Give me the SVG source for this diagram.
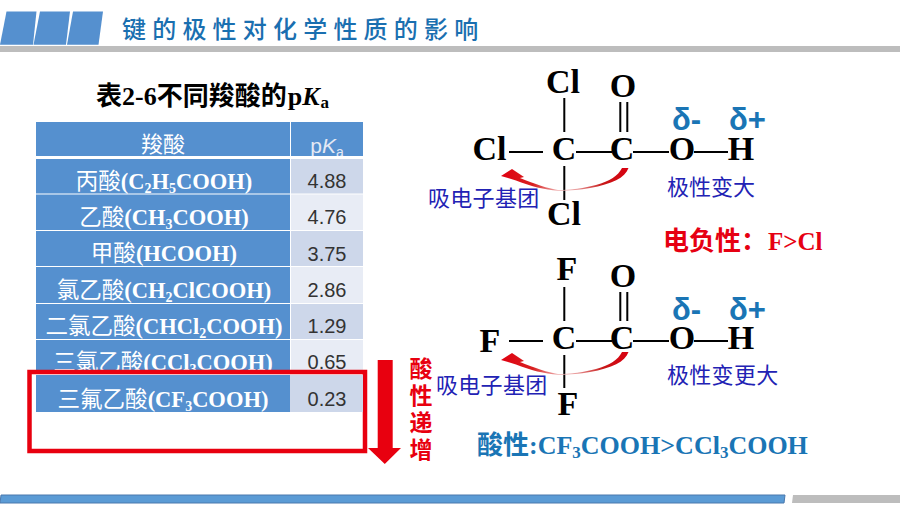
<svg xmlns="http://www.w3.org/2000/svg" width="900" height="506" viewBox="0 0 900 506">
<style>
text{font-family:"Liberation Serif","Noto Sans CJK SC",serif}
.cjk{font-family:"Noto Sans CJK SC","Noto Sans",sans-serif}
.b{font-weight:700}
.row{fill:#fff;font-size:22.500px;font-weight:700;text-anchor:middle}
.row .cjk{font-weight:400}
.val{font-family:"Liberation Sans",sans-serif;font-size:20px;fill:#333;text-anchor:middle}
.blue{fill:#5590cf}
.atom{font-size:34px;font-weight:700;fill:#000;text-anchor:middle}
.delta{font-family:"Liberation Sans",sans-serif;font-size:31px;font-weight:700;fill:#1a75b5}
.note{font-family:"Noto Sans CJK SC",sans-serif;font-size:22px;fill:#2222b4}
.bond{stroke:#000;stroke-width:2;fill:none}
</style>
<defs>
<linearGradient id="arcfill" x1="0" x2="1" y1="0" y2="0">
<stop offset="0" stop-color="#e00010"/><stop offset="0.25" stop-color="#d82020"/><stop offset="0.45" stop-color="#eeb0b0"/><stop offset="0.55" stop-color="#eeb0b0"/><stop offset="0.8" stop-color="#c81818"/><stop offset="1" stop-color="#d80010"/>
</linearGradient>
<path id="arc" fill="url(#arcfill)" d="M628.500,168C625,178 612,184 590,188C578,190 568,191 558,190.700C545,190 530,186 516,180.500L508,178L501,176L512,169L524,177L520,178C535,184 548,188.500 558,190C570,190 585,188 596,185C610,181 618,176 622,168Z"/>
<clipPath id="hdr"><rect x="290" y="122" width="73" height="34"/></clipPath>
</defs>
<rect width="900" height="506" fill="#fff"/>
<g id="header">
<polygon class="blue" points="6.500,11.500 36.500,11.500 33,44.700 0,44.700"/>
<polygon class="blue" points="40,11.500 70,11.500 66,44.700 33.500,44.700"/>
<polygon class="blue" points="73,11.500 103,11.500 98.500,44.700 67,44.700"/>
<rect x="0" y="46" width="900" height="6" fill="#bdbdbd"/>
<text class="cjk" x="122" y="38" font-size="24" font-weight="500" letter-spacing="6.200" fill="#1a6fb0">键的极性对化学性质的影响</text>
</g>
<g id="table-title">
<text class="b" x="96" y="105" font-size="26" fill="#000"><tspan class="cjk">表</tspan>2-6<tspan class="cjk">不同羧酸的</tspan><tspan dx="1">p</tspan><tspan font-style="italic">K</tspan><tspan font-size="17" dy="3" dx="1">a</tspan></text>
</g>
<g id="table">
<rect class="blue" x="36" y="122" width="254" height="34"/><rect class="blue" x="291" y="122" width="72" height="34"/>
<rect class="blue" x="36" y="159" width="254" height="34.500"/><rect x="291" y="159" width="72" height="34.500" fill="#cdd7ea"/>
<rect class="blue" x="36" y="194.500" width="254" height="35.500"/><rect x="291" y="194.500" width="72" height="35.500" fill="#e8ecf5"/>
<rect class="blue" x="36" y="231" width="254" height="35"/><rect x="291" y="231" width="72" height="35" fill="#cdd7ea"/>
<rect class="blue" x="36" y="267" width="254" height="36"/><rect x="291" y="267" width="72" height="36" fill="#e8ecf5"/>
<rect class="blue" x="36" y="304" width="254" height="35"/><rect x="291" y="304" width="72" height="35" fill="#cdd7ea"/>
<rect class="blue" x="36" y="340" width="254" height="32"/><rect x="291" y="340" width="72" height="32" fill="#e8ecf5"/>
<text class="cjk" x="163" y="152" font-size="22" fill="#fff" text-anchor="middle">羧酸</text>
<g clip-path="url(#hdr)"><text x="327" y="153" font-size="21" fill="#e4e9f4" text-anchor="middle" style="font-family:'Liberation Sans',sans-serif">p<tspan font-style="italic">K</tspan><tspan font-size="14" dy="4">a</tspan></text></g>
<text class="row" x="164" y="188.500"><tspan class="cjk">丙酸</tspan>(C<tspan font-size="14" dy="4">2</tspan><tspan dy="-4">H</tspan><tspan font-size="14" dy="4">5</tspan><tspan dy="-4">COOH)</tspan></text>
<text class="val" x="327" y="188">4.88</text>
<text class="row" x="164" y="224.500"><tspan class="cjk">乙酸</tspan>(CH<tspan font-size="14" dy="4">3</tspan><tspan dy="-4">COOH)</tspan></text>
<text class="val" x="327" y="224">4.76</text>
<text class="row" x="164" y="260.500"><tspan class="cjk">甲酸</tspan>(HCOOH)</text>
<text class="val" x="327" y="261">3.75</text>
<text class="row" x="164" y="297.500"><tspan class="cjk">氯乙酸</tspan>(CH<tspan font-size="14" dy="4">2</tspan><tspan dy="-4">ClCOOH)</tspan></text>
<text class="val" x="327" y="297">2.86</text>
<text class="row" x="164" y="333.500"><tspan class="cjk">二氯乙酸</tspan>(CHCl<tspan font-size="14" dy="4">2</tspan><tspan dy="-4">COOH)</tspan></text>
<text class="val" x="327" y="333">1.29</text>
<text class="row" x="163" y="369.500"><tspan class="cjk">三氯乙酸</tspan>(CCl<tspan font-size="14" dy="4">3</tspan><tspan dy="-4">COOH)</tspan></text>
<text class="val" x="327" y="369">0.65</text>
<rect x="29.500" y="372" width="335.500" height="79" fill="#fff" stroke="#e8000f" stroke-width="4.500"/>
<rect class="blue" x="36" y="375" width="254" height="37"/><rect x="290" y="375" width="73" height="37" fill="#cdd7ea"/>
<text class="row" x="163" y="406.500"><tspan class="cjk">三氟乙酸</tspan>(CF<tspan font-size="14" dy="4">3</tspan><tspan dy="-4">COOH)</tspan></text>
<text class="val" x="327" y="406">0.23</text>
</g>
<g id="acidity-arrow">
<polygon fill="#e8000f" points="377.700,360 392.700,360 392.700,448 401,448 384.800,464 368,448 377.700,448"/>
<text class="cjk b" x="421" y="357" font-size="23" letter-spacing="4" fill="#e8000f" style="writing-mode:vertical-rl">酸性递增</text>
</g>
<g id="connectors">
<path class="bond" d="M509,152H543M576,152H612M633,152H669M694,152H728M564.300,98V132M564.300,166V200M620.300,102V132M627.300,102V132"/>
<path class="bond" d="M509,341H543M576,341H612M633,341H669M694,341H728M564.300,287V321M564.300,355V388M620.300,292V321M627.300,292V321"/>
<use href="#arc"/>
<use href="#arc" transform="translate(0,184)"/>
</g>
<g id="molecule-ccl3">
<text class="atom" x="563" y="93">Cl</text><text class="atom" x="623" y="97">O</text>
<text class="atom" x="489.500" y="160">Cl</text><text class="atom" x="564" y="160">C</text><text class="atom" x="622" y="160">C</text><text class="atom" x="682" y="160">O</text><text class="atom" x="741" y="160">H</text>
<text class="atom" x="564" y="225">Cl</text>
<text class="delta" x="672" y="130">δ-</text><text class="delta" x="729" y="130">δ+</text>
<text class="note" x="428" y="206" letter-spacing="0.300">吸电子基团</text>
<text class="note" x="667" y="195">极性变大</text>
</g>
<g id="electronegativity">
<text x="663" y="250" font-size="25" font-weight="700" fill="#e60012"><tspan class="cjk" font-size="26">电负性：</tspan><tspan x="768">F&gt;Cl</tspan></text>
</g>
<g id="molecule-cf3">
<text class="atom" x="567" y="280">F</text><text class="atom" x="623" y="287">O</text>
<text class="atom" x="490" y="352">F</text><text class="atom" x="564" y="349">C</text><text class="atom" x="622" y="349">C</text><text class="atom" x="682" y="349">O</text><text class="atom" x="741" y="349">H</text>
<text class="atom" x="568" y="415">F</text>
<text class="delta" x="672" y="320">δ-</text><text class="delta" x="729" y="320">δ+</text>
<text class="note" x="436" y="393" letter-spacing="0.300">吸电子基团</text>
<text class="note" x="667" y="383" letter-spacing="0.300">极性变更大</text>
</g>
<g id="acidity-compare">
<text x="477" y="454" font-size="26" font-weight="700" fill="#1a75b5"><tspan class="cjk">酸性</tspan>:CF<tspan font-size="17" dy="4">3</tspan><tspan dy="-4">COOH&gt;CCl</tspan><tspan font-size="17" dy="4">3</tspan><tspan dy="-4">COOH</tspan></text>
</g>
<g id="footer">
<polygon fill="#5b9bd5" stroke="#4a78ad" stroke-width="1" points="1,495 785,495 784,503 0,503"/>
<polygon fill="#bdbdbd" points="793,495 900,495 900,503 792,503"/>
</g>
</svg>
